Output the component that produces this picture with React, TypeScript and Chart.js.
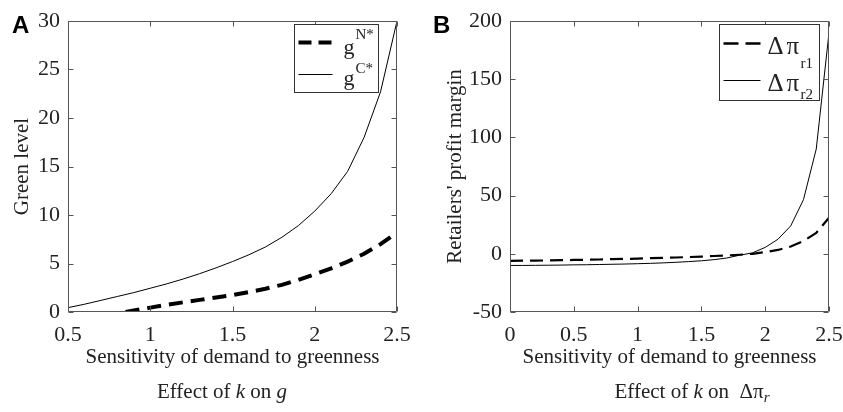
import React, { useEffect, useRef } from "react";
import { Chart, registerables } from "chart.js";
Chart.register(...registerables);

// ---------- Data ----------
// Panel A: green level vs sensitivity k
const kCoop = [0.5, 0.6, 0.7, 0.8, 0.9, 1.0, 1.1, 1.2, 1.3, 1.4, 1.5, 1.6, 1.7, 1.8, 1.9, 2.0, 2.1, 2.2, 2.3, 2.4, 2.5];
const gCoop = [0.45, 0.8, 1.2, 1.6, 2.0, 2.45, 2.9, 3.4, 3.95, 4.55, 5.2, 5.9, 6.7, 7.7, 8.9, 10.4, 12.2, 14.5, 18.0, 22.7, 30.0];
const kNon = [0.85, 0.9, 1.0, 1.1, 1.2, 1.3, 1.4, 1.5, 1.6, 1.7, 1.8, 1.9, 2.0, 2.1, 2.2, 2.3, 2.4, 2.5];
const gNon = [0.0, 0.15, 0.45, 0.75, 1.0, 1.25, 1.5, 1.75, 2.05, 2.4, 2.8, 3.3, 3.9, 4.5, 5.2, 6.0, 7.0, 8.2];
const xTicksA = [0.5, 1, 1.5, 2, 2.5];
const yTicksA = [0, 5, 10, 15, 20, 25, 30];

// Panel B: retailers' profit margin differences
const kB = [0, 0.1, 0.2, 0.3, 0.4, 0.5, 0.6, 0.7, 0.8, 0.9, 1.0, 1.1, 1.2, 1.3, 1.4, 1.5, 1.6, 1.7, 1.8, 1.9, 2.0, 2.1, 2.2, 2.3, 2.4, 2.5];
const dPiR1 = [-6, -5.9, -5.8, -5.7, -5.5, -5.3, -5.1, -4.9, -4.6, -4.4, -4.1, -3.8, -3.5, -3.2, -2.8, -2.4, -1.9, -1.4, -0.8, 0.0, 1.5, 3.3, 6.3, 11, 18, 31];
const dPiR2 = [-10, -10, -9.9, -9.8, -9.7, -9.5, -9.4, -9.2, -9.0, -8.8, -8.5, -8.2, -7.8, -7.3, -6.7, -6.0, -5.0, -3.6, -1.2, 0.8, 5.5, 12.5, 24, 46.5, 90, 190];
const xTicksB = [0, 0.5, 1, 1.5, 2, 2.5];
const yTicksB = [-50, 0, 50, 100, 150, 200];

const SERIF = "'Liberation Serif', 'Times New Roman', serif";
const TEXT = "#222";
const FRAME = "#555";

const pts = (xs: number[], ys: number[]) => xs.map((x, i) => ({ x, y: ys[i] }));

// Frame + inward tick marks (MATLAB style)
const framePlugin = {
  id: "frame",
  afterDatasetsDraw(chart: any) {
    const { ctx, chartArea: a, scales } = chart;
    const L = Math.round(a.left) + 0.5, R = Math.round(a.right) - 0.5;
    const T = Math.round(a.top) + 0.5, B = Math.round(a.bottom) - 0.5;
    ctx.save();
    ctx.strokeStyle = FRAME;
    ctx.lineWidth = 1;
    ctx.beginPath();
    ctx.rect(L, T, R - L, B - T);
    const len = 5;
    scales.x.ticks.forEach((t: any) => {
      const px = Math.round(scales.x.getPixelForValue(t.value)) + 0.5;
      ctx.moveTo(px, B); ctx.lineTo(px, B - len);
      ctx.moveTo(px, T); ctx.lineTo(px, T + len);
    });
    scales.y.ticks.forEach((t: any) => {
      const py = Math.round(scales.y.getPixelForValue(t.value)) + 0.5;
      ctx.moveTo(L, py); ctx.lineTo(L + len, py);
      ctx.moveTo(R, py); ctx.lineTo(R - len, py);
    });
    ctx.stroke();
    ctx.restore();
  },
};

type LegendItem = { dash: number[]; width: number; main: string[]; mainX: number[]; script: string; scriptX: number; scriptDy: number };
type LegendCfg = { rightGap: number; top: number; w: number; h: number; sampleX0: number; sampleX1: number; rowY: number[]; baseY: number[]; mainSize: number; items: LegendItem[] };

const makeLegendPlugin = (cfg: LegendCfg) => ({
  id: "customLegend",
  afterDraw(chart: any) {
    const { ctx, chartArea: a } = chart;
    const left = Math.round(a.right - cfg.rightGap - cfg.w) + 0.5;
    const top = Math.round(a.top + cfg.top) + 0.5;
    ctx.save();
    ctx.fillStyle = "#fff";
    ctx.fillRect(left, top, cfg.w, cfg.h);
    ctx.strokeStyle = "#333";
    ctx.lineWidth = 1;
    ctx.strokeRect(left, top, cfg.w, cfg.h);
    cfg.items.forEach((it, i) => {
      const y = top + cfg.rowY[i];
      ctx.beginPath();
      ctx.setLineDash(it.dash);
      ctx.lineWidth = it.width;
      ctx.strokeStyle = "#000";
      ctx.moveTo(left + cfg.sampleX0, y);
      ctx.lineTo(left + cfg.sampleX1, y);
      ctx.stroke();
      ctx.setLineDash([]);
      ctx.fillStyle = TEXT;
      ctx.textBaseline = "alphabetic";
      ctx.textAlign = "left";
      ctx.font = `${cfg.mainSize}px ${SERIF}`;
      const by = top + cfg.baseY[i];
      it.main.forEach((s, j) => ctx.fillText(s, left + it.mainX[j], by));
      ctx.font = `15px ${SERIF}`;
      ctx.fillText(it.script, left + it.scriptX, by + it.scriptDy);
    });
    ctx.restore();
  },
});

type PanelProps = {
  width: number;
  left: number;
  datasets: any[];
  xMin: number; xMax: number; yMin: number; yMax: number;
  xTicks: number[]; yTicks: number[];
  yTitle: string;
  yAxisWidth: number;
  yTitlePad: number;
  padRight: number;
  legend: LegendCfg;
};

function Panel(p: PanelProps) {
  const ref = useRef<HTMLCanvasElement>(null);
  useEffect(() => {
    if (!ref.current) return;
    const tickFont = { family: SERIF, size: 22 };
    const chart = new Chart(ref.current, {
      type: "line",
      data: { datasets: p.datasets },
      options: {
        animation: false,
        responsive: false,
        maintainAspectRatio: false,
        layout: { padding: { left: 0, top: 21, right: p.padRight, bottom: 40 } },
        plugins: { legend: { display: false }, tooltip: { enabled: false } },
        elements: { point: { radius: 0 }, line: { tension: 0 } },
        scales: {
          x: {
            type: "linear",
            min: p.xMin,
            max: p.xMax,
            grid: { display: false, drawTicks: false },
            border: { display: false },
            afterBuildTicks: (s: any) => { s.ticks = p.xTicks.map((v) => ({ value: v })); },
            afterFit: (s: any) => { s.height = 60; s.paddingLeft = 0; s.paddingRight = 0; },
            ticks: { font: tickFont, color: TEXT, padding: 10, maxRotation: 0, autoSkip: false, callback: (v: any) => String(v) },
            title: { display: true, text: "Sensitivity of demand to greenness", font: { family: SERIF, size: 21 }, color: TEXT, padding: { top: 0, bottom: 2.4 } },
          },
          y: {
            type: "linear",
            min: p.yMin,
            max: p.yMax,
            grid: { display: false, drawTicks: false },
            border: { display: false },
            afterBuildTicks: (s: any) => { s.ticks = p.yTicks.map((v) => ({ value: v })); },
            afterFit: (s: any) => { s.width = p.yAxisWidth; s.paddingTop = 0; s.paddingBottom = 0; },
            ticks: { font: tickFont, color: TEXT, padding: 8, autoSkip: false, callback: (v: any) => String(v) },
            title: { display: true, text: p.yTitle, font: { family: SERIF, size: 21 }, color: TEXT, padding: { top: p.yTitlePad, bottom: 0 } },
          },
        },
      },
      plugins: [framePlugin, makeLegendPlugin(p.legend)],
    } as any);
    return () => chart.destroy();
  }, []);
  return (
    <canvas
      ref={ref}
      width={p.width}
      height={412}
      style={{ position: "absolute", left: p.left, top: 0, width: p.width, height: 412 }}
    />
  );
}

const legendA: LegendCfg = {
  rightGap: 19, top: 3, w: 84, h: 68, sampleX0: 4, sampleX1: 38,
  rowY: [18, 50], baseY: [29, 60], mainSize: 22,
  items: [
    { dash: [13, 7], width: 4, main: ["g"], mainX: [49], script: "N*", scriptX: 61, scriptDy: -15 },
    { dash: [], width: 1, main: ["g"], mainX: [49], script: "C*", scriptX: 61, scriptDy: -12 },
  ],
};

const legendB: LegendCfg = {
  rightGap: 10, top: 3, w: 100, h: 76, sampleX0: 4, sampleX1: 41,
  rowY: [19, 56], baseY: [29, 66], mainSize: 25,
  items: [
    { dash: [15, 7], width: 2.5, main: ["Δ", "π"], mainX: [48, 67], script: "r1", scriptX: 81, scriptDy: 14 },
    { dash: [], width: 1, main: ["Δ", "π"], mainX: [48, 67], script: "r2", scriptX: 81, scriptDy: 8 },
  ],
};

export default function App() {
  const dsA = [
    { label: "gN*", data: pts(kNon, gNon), borderColor: "#000", borderWidth: 4, borderDash: [14, 8], pointRadius: 0, fill: false },
    { label: "gC*", data: pts(kCoop, gCoop), borderColor: "#000", borderWidth: 1, pointRadius: 0, fill: false },
  ];
  const dsB = [
    { label: "Δπr1", data: pts(kB, dPiR1), borderColor: "#000", borderWidth: 2.2, borderDash: [13, 7], pointRadius: 0, fill: false },
    { label: "Δπr2", data: pts(kB, dPiR2), borderColor: "#000", borderWidth: 1, pointRadius: 0, fill: false },
  ];
  const panelLabel: React.CSSProperties = {
    position: "absolute", top: 12.7, fontFamily: "'Liberation Sans', Arial, sans-serif",
    fontWeight: "bold", fontSize: 24, lineHeight: "24px", color: "#000",
  };
  const caption: React.CSSProperties = {
    position: "absolute", top: 379, width: 320, textAlign: "center",
    fontFamily: SERIF, fontSize: 21, lineHeight: "24px", color: TEXT, whiteSpace: "nowrap",
  };
  return (
    <div style={{ position: "absolute", left: 0, top: 0, width: 843, height: 412, background: "#fff", overflow: "hidden" }}>
      <Panel width={421} left={0} datasets={dsA} xMin={0.5} xMax={2.5} yMin={0} yMax={30}
        xTicks={xTicksA} yTicks={yTicksA} yTitle="Green level" yAxisWidth={68} yTitlePad={10} padRight={24} legend={legendA} />
      <Panel width={422} left={421} datasets={dsB} xMin={0} xMax={2.5} yMin={-50} yMax={200}
        xTicks={xTicksB} yTicks={yTicksB} yTitle="Retailers' profit margin" yAxisWidth={89} yTitlePad={21.4} padRight={14} legend={legendB} />
      <div style={{ ...panelLabel, left: 12 }}>A</div>
      <div style={{ ...panelLabel, left: 433 }}>B</div>
      <div style={{ ...caption, left: 222 - 160 }}>
        Effect of <i>k</i> on <i>g</i>
      </div>
      <div style={{ ...caption, left: 692 - 160 }}>
        Effect of <i>k</i> on&nbsp;&nbsp;Δπ<sub style={{ fontSize: 15, fontStyle: "italic", verticalAlign: "-4px" }}>r</sub>
      </div>
    </div>
  );
}
